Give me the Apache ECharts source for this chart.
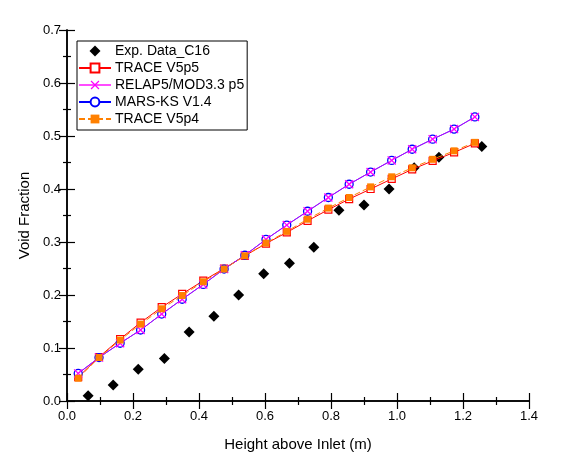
<!DOCTYPE html>
<html>
<head>
<meta charset="utf-8">
<script src="https://cdn.jsdelivr.net/npm/echarts@6/dist/echarts.min.js"></script>
<style>
html,body{margin:0;padding:0;background:#fff;}
#chart{width:572px;height:470px;}
</style>
</head>
<body>
<div id="chart"></div>
<script>
// Experimental data
const expX = [0.064, 0.140, 0.216, 0.295, 0.370, 0.445, 0.520, 0.596, 0.674, 0.748, 0.824, 0.900, 0.976, 1.052, 1.127, 1.257];
const expY = [0.01, 0.03, 0.06, 0.08, 0.13, 0.16, 0.20, 0.24, 0.26, 0.29, 0.36, 0.37, 0.40, 0.44, 0.46, 0.48];
// Code predictions (shared node heights)
const nodeX = [0.034, 0.097, 0.161, 0.223, 0.287, 0.349, 0.413, 0.476, 0.539, 0.603, 0.666, 0.729, 0.792, 0.855, 0.920, 0.984, 1.046, 1.108, 1.173, 1.236];
const traceV5p5 = [0.045, 0.083, 0.117, 0.148, 0.177, 0.202, 0.227, 0.250, 0.274, 0.297, 0.318, 0.340, 0.361, 0.381, 0.400, 0.419, 0.437, 0.453, 0.469, 0.486];
const relap5 = [0.052, 0.082, 0.109, 0.134, 0.164, 0.192, 0.220, 0.249, 0.275, 0.305, 0.332, 0.358, 0.384, 0.409, 0.432, 0.454, 0.475, 0.494, 0.513, 0.536];
const marsKS = [0.052, 0.082, 0.109, 0.134, 0.164, 0.192, 0.220, 0.249, 0.275, 0.305, 0.332, 0.358, 0.384, 0.409, 0.432, 0.454, 0.475, 0.494, 0.513, 0.536];
const traceV5p4 = [0.043, 0.082, 0.115, 0.145, 0.174, 0.199, 0.225, 0.249, 0.274, 0.298, 0.320, 0.343, 0.364, 0.384, 0.404, 0.423, 0.440, 0.456, 0.472, 0.488];
const seriesNames = ['Exp. Data_C16', 'TRACE V5p5', 'RELAP5/MOD3.3 p5', 'MARS-KS V1.4', 'TRACE V5p4'];

function pairs(xs, ys){ return xs.map((x,i)=>[x, ys[i]]); }

const FONT = 'Liberation Sans, Arial, sans-serif';
const crossPath = 'path://M0,1 L1,0 L5,4 L9,0 L10,1 L6,5 L10,9 L9,10 L5,6 L1,10 L0,9 L4,5 Z';
const diamondPath = 'path://M5,0 L10,5 L5,10 L0,5 Z';

const axisLineStyle = {show:true, lineStyle:{color:'#000', width:1.5}};
const xCommon = {type:'value', min:0, max:1.4, interval:0.2,
  axisLine: axisLineStyle,
  axisTick:{show:true, inside:true, length:8, lineStyle:{color:'#000', width:1.2}},
  minorTick:{show:true, splitNumber:2, length:4, lineStyle:{color:'#000', width:1.2}},
  splitLine:{show:false}, minorSplitLine:{show:false}};
const yCommon = {type:'value', min:0, max:0.7, interval:0.1,
  axisLine: axisLineStyle,
  axisTick:{show:true, inside:true, length:8, lineStyle:{color:'#000', width:1.2}},
  minorTick:{show:true, splitNumber:2, length:4, lineStyle:{color:'#000', width:1.2}},
  splitLine:{show:false}, minorSplitLine:{show:false}};

const chart = echarts.init(document.getElementById('chart'), null, {renderer:'canvas'});
chart.setOption({
  backgroundColor:'#fff',
  animation:false,
  textStyle:{fontFamily:FONT},
  grid:{left:67, right:43, top:30, bottom:69},
  legend:{
    data: [
      {name:seriesNames[0], icon:diamondPath},
      seriesNames[1], seriesNames[2], seriesNames[3], seriesNames[4]
    ],
    orient:'vertical', left:77, top:41,
    symbolKeepAspect:true,
    backgroundColor:'#fff', borderColor:'#000', borderWidth:1,
    padding:[3,3,4,1],
    itemWidth:32, itemHeight:11, itemGap:3,
    textStyle:{fontFamily:FONT, fontSize:14, color:'#000', lineHeight:14, padding:[0,0,0,-1]}
  },
  xAxis:[
    Object.assign({}, xCommon, {position:'bottom',
      name:'Height above Inlet (m)', nameLocation:'middle', nameGap:36,
      nameTextStyle:{fontFamily:FONT, fontSize:15, color:'#000'},
      axisLabel:{show:true, margin:9, fontFamily:FONT, fontSize:13, color:'#000', formatter:v=>v.toFixed(1)}}),
    Object.assign({}, xCommon, {position:'top', axisLabel:{show:false}})
  ],
  yAxis:[
    Object.assign({}, yCommon, {position:'left',
      name:'Void Fraction', nameLocation:'middle', nameGap:28,
      nameTextStyle:{fontFamily:FONT, fontSize:15, color:'#000'},
      axisLabel:{show:true, margin:6, fontFamily:FONT, fontSize:13, color:'#000', formatter:v=>v.toFixed(1)}}),
    Object.assign({}, yCommon, {position:'right', axisLabel:{show:false}})
  ],
  series:[
    {name:seriesNames[0], type:'scatter', data:pairs(expX, expY), z:1,
     symbol:'diamond', symbolSize:11, itemStyle:{color:'#000', opacity:1}},
    {name:seriesNames[1], type:'line', data:pairs(nodeX, traceV5p5), z:2,
     symbol:'rect', symbolSize:7, showSymbol:true,
     lineStyle:{color:'#ff0000', width:1},
     itemStyle:{color:'#fff', borderColor:'#ff0000', borderWidth:1.2}},
    {name:seriesNames[3], type:'line', data:pairs(nodeX, marsKS), z:3,
     symbol:'circle', symbolSize:8,
     lineStyle:{color:'#0000ff', width:1},
     itemStyle:{color:'#fff', borderColor:'#0000ff', borderWidth:1.3}},
    {name:seriesNames[2], type:'line', data:pairs(nodeX, relap5), z:4,
     symbol:crossPath, symbolSize:9,
     lineStyle:{color:'#ff00ff', width:1, opacity:0.7},
     itemStyle:{color:'#ff00ff', borderWidth:0}},
    {name:seriesNames[4], type:'line', data:pairs(nodeX, traceV5p4), z:5,
     symbol:'rect', symbolSize:7,
     lineStyle:{color:'#ff8000', width:1, type:[6,3]},
     itemStyle:{color:'#ff8000', borderWidth:0}}
  ]
});
</script>
</body>
</html>
